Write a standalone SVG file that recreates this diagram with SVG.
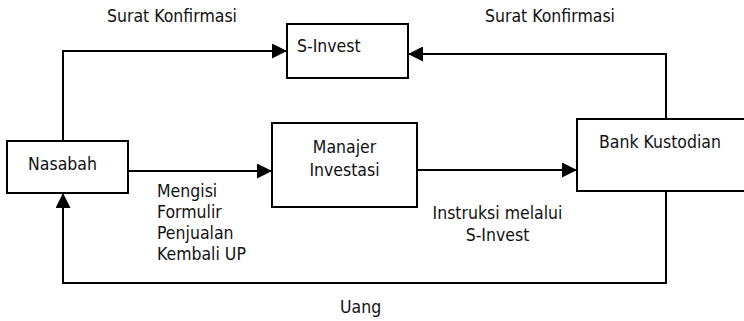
<svg xmlns="http://www.w3.org/2000/svg" width="744" height="321" viewBox="0 0 744 321">
<style>
.box{fill:#fff;stroke:#000;stroke-width:2}
.ln{fill:none;stroke:#000;stroke-width:2}
text{font-family:"DejaVu Sans Condensed","DejaVu Sans",sans-serif;font-stretch:condensed;font-size:17.5px;fill:#111}
.m{text-anchor:middle}
</style>
<defs>
<marker id="arr" markerUnits="userSpaceOnUse" markerWidth="15" markerHeight="15" refX="15" refY="7.5" orient="auto">
<path d="M0,0 L15,7.5 L0,15 z" fill="#000"/>
</marker>
</defs>
<rect width="744" height="321" fill="#fff"/>
<g id="connectors">
<path class="ln" d="M63,141 V51 H287" marker-end="url(#arr)"/>
<path class="ln" d="M666,119 V54 H408" marker-end="url(#arr)"/>
<path class="ln" d="M128,171 H272" marker-end="url(#arr)"/>
<path class="ln" d="M417,170 H577" marker-end="url(#arr)"/>
<path class="ln" d="M666,191 V283 H63 V193" marker-end="url(#arr)"/>
</g>
<g id="nasabah">
<rect class="box" x="7" y="141" width="121" height="52"/>
<text x="28" y="170">Nasabah</text>
</g>
<g id="s-invest">
<rect class="box" x="287" y="24" width="121" height="54"/>
<text x="297" y="52">S-Invest</text>
</g>
<g id="manajer-investasi">
<rect class="box" x="272" y="123" width="145" height="84"/>
<text class="m" x="344.5" y="153">Manajer</text>
<text class="m" x="344.5" y="176">Investasi</text>
</g>
<g id="bank-kustodian">
<rect class="box" x="577" y="119" width="180" height="72"/>
<text x="599" y="148">Bank Kustodian</text>
</g>
<g id="labels">
<text x="107" y="22">Surat Konfirmasi</text>
<text x="485" y="22">Surat Konfirmasi</text>
<text x="157" y="197">Mengisi</text>
<text x="157" y="218">Formulir</text>
<text x="157" y="239">Penjualan</text>
<text x="157" y="260">Kembali UP</text>
<text class="m" x="497.5" y="219">Instruksi melalui</text>
<text class="m" x="497.5" y="241">S-Invest</text>
<text x="340" y="313">Uang</text>
</g>
</svg>
